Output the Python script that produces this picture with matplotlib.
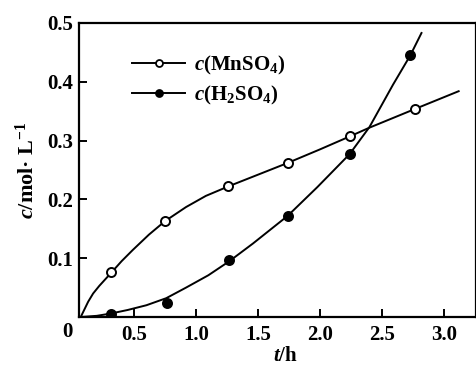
import matplotlib
matplotlib.use("Agg")
import matplotlib.pyplot as plt
from matplotlib.lines import Line2D

plt.rcParams['font.family'] = 'Liberation Serif'
plt.rcParams['font.weight'] = 'bold'
plt.rcParams['axes.labelweight'] = 'bold'
plt.rcParams['mathtext.fontset'] = 'custom'
plt.rcParams['mathtext.rm'] = 'Liberation Serif:bold'
plt.rcParams['mathtext.it'] = 'Liberation Serif:bold:italic'
plt.rcParams['mathtext.bf'] = 'Liberation Serif:bold'

# measured points
t_mn = [0.315, 0.75, 1.26, 1.74, 2.24, 2.77]
mnso4 = [0.077, 0.163, 0.222, 0.262, 0.307, 0.354]
t_h = [0.315, 0.77, 1.27, 1.74, 2.24, 2.73]
h2so4 = [0.005, 0.024, 0.097, 0.172, 0.277, 0.446]

# fitted curves
t_fit1 = [0.07, 0.10, 0.13, 0.17, 0.22, 0.315, 0.40, 0.49, 0.62, 0.75, 0.92, 1.08, 1.26, 1.5, 1.74, 2.0, 2.24, 2.4, 2.77, 3.12]
mn_fit = [0.0, 0.013, 0.026, 0.040, 0.053, 0.075, 0.095, 0.114, 0.140, 0.163, 0.187, 0.206, 0.222, 0.242, 0.262, 0.285, 0.307, 0.322, 0.354, 0.384]
t_fit2 = [0.07, 0.2, 0.315, 0.45, 0.6, 0.76, 0.92, 1.1, 1.27, 1.46, 1.74, 1.98, 2.24, 2.4, 2.59, 2.73, 2.82]
h_fit = [0.0, 0.002, 0.006, 0.012, 0.020, 0.032, 0.050, 0.071, 0.095, 0.125, 0.172, 0.221, 0.277, 0.323, 0.395, 0.445, 0.483]

xticks = [0.5, 1.0, 1.5, 2.0, 2.5, 3.0]
yticks = [0.1, 0.2, 0.3, 0.4, 0.5]

fig = plt.figure(figsize=(4.77, 3.67), dpi=100)
ax = fig.add_axes([79/477, 50/367, 397/477, 294/367])

ax.plot(t_fit1, mn_fit, color='black', lw=1.4)
ax.plot(t_fit2, h_fit, color='black', lw=1.4)
ax.plot(t_mn, mnso4, 'o', ms=6.5, mfc='white', mec='black', mew=1.4)
ax.plot(t_h, h2so4, 'o', ms=6.5, mfc='black', mec='black', mew=1.4)

ax.set_xlim(0.056, 3.26)
ax.set_ylim(0, 0.5)
ax.set_xticks(xticks)
ax.set_xticklabels(['%.1f' % v for v in xticks])
ax.set_yticks(yticks)
ax.set_yticklabels(['%.1f' % v for v in yticks])
ax.tick_params(direction='in', length=6, width=1.4, labelsize=15, pad=6)
ax.tick_params(axis='y', pad=4)
for s in ax.spines.values():
    s.set_linewidth(1.6)

ax.text(-0.04, -0.008, '0', ha='center', va='top', fontsize=15, clip_on=False)

ax.set_xlabel('$t$/h', fontsize=15, labelpad=1)
ax.xaxis.set_label_coords(0.52, -0.1)
ax.set_ylabel('$c$/mol· L$^{-1}$', fontsize=16, labelpad=6)

h1 = Line2D([], [], color='black', lw=1.4, marker='o', ms=5, mfc='white', mec='black', mew=1.3)
h2 = Line2D([], [], color='black', lw=1.4, marker='o', ms=5, mfc='black', mec='black', mew=1.3)
ax.legend([h1, h2], ['$c$(MnSO$_4$)', '$c$(H$_2$SO$_4$)'], loc='upper left',
          bbox_to_anchor=(0.1335, 0.895), frameon=False, fontsize=15,
          borderpad=0, borderaxespad=0,
          handlelength=2.55, handletextpad=0.45, labelspacing=0.33)

fig.savefig('out.png', dpi=100)
